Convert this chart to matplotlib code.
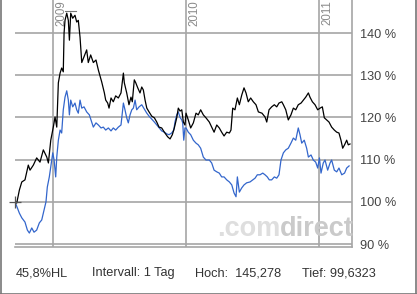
import matplotlib
matplotlib.use("Agg")
import matplotlib.pyplot as plt
from matplotlib.lines import Line2D

# time in decimal years, values in % of start
black_t = [2008.714, 2008.727, 2008.747, 2008.765, 2008.789, 2008.814, 2008.827, 2008.852, 2008.877,
           2008.902, 2008.927, 2008.953, 2008.965, 2008.983, 2009.002, 2009.015, 2009.028, 2009.040,
           2009.053, 2009.065, 2009.077, 2009.083, 2009.090, 2009.103, 2009.115, 2009.123, 2009.133,
           2009.148, 2009.165, 2009.178, 2009.190, 2009.203, 2009.216, 2009.233, 2009.253, 2009.265,
           2009.283, 2009.303, 2009.323, 2009.341, 2009.366, 2009.386, 2009.396, 2009.411, 2009.421,
           2009.436, 2009.453, 2009.471, 2009.491, 2009.511, 2009.529, 2009.536, 2009.554, 2009.571,
           2009.586, 2009.596, 2009.611, 2009.622, 2009.637, 2009.654, 2009.667, 2009.679, 2009.692,
           2009.705, 2009.722, 2009.742, 2009.762, 2009.780, 2009.797, 2009.817, 2009.837, 2009.862,
           2009.880, 2009.897, 2009.912, 2009.930, 2009.942, 2009.955, 2009.968, 2009.980, 2009.992,
           2010.000, 2010.017, 2010.035, 2010.055, 2010.075, 2010.092, 2010.110, 2010.130, 2010.150,
           2010.175, 2010.193, 2010.211, 2010.231, 2010.250, 2010.268, 2010.286, 2010.306, 2010.326,
           2010.338, 2010.351, 2010.368, 2010.386, 2010.401, 2010.419, 2010.436, 2010.451, 2010.468,
           2010.486, 2010.506, 2010.526, 2010.544, 2010.571, 2010.594, 2010.607, 2010.624, 2010.644,
           2010.664, 2010.682, 2010.699, 2010.720, 2010.732, 2010.750, 2010.769, 2010.789, 2010.807,
           2010.825, 2010.844, 2010.865, 2010.882, 2010.900, 2010.920, 2010.932, 2010.950, 2010.970,
           2010.990, 2011.008, 2011.025, 2011.040, 2011.058, 2011.075, 2011.095, 2011.115, 2011.133,
           2011.150, 2011.165, 2011.178, 2011.192, 2011.208, 2011.220, 2011.233]
black_v = [100.0, 99.7, 102.8, 104.7, 105.2, 108.7, 107.5, 108.7, 110.4,
           109.4, 112.3, 110.6, 109.2, 114.6, 117.7, 120.1, 117.7, 128.2,
           130.5, 131.7, 130.8, 140.0, 143.0, 144.7, 143.0, 138.3, 144.7,
           143.5, 144.2, 142.6, 143.0, 139.0, 133.0, 134.4, 136.0, 133.0,
           134.8, 133.0, 133.6, 131.2, 128.4, 125.8, 124.1, 123.4, 122.2,
           124.6, 123.7, 125.1, 124.6, 125.8, 130.5, 128.2, 125.8, 123.0,
           124.8, 123.7, 128.9, 128.2, 127.0, 125.8, 127.2, 126.5, 124.1,
           122.2, 121.3, 120.3, 119.9, 118.9, 117.7, 117.5, 116.5, 115.4,
           114.9, 115.9, 117.5, 119.9, 122.2, 121.5, 121.8, 118.9, 118.2,
           121.0, 119.4, 117.5, 118.7, 121.0, 120.6, 121.8, 120.6, 119.9,
           118.9, 117.7, 116.5, 118.2, 117.5, 116.5, 115.6, 116.5, 116.3,
           117.0, 122.2, 121.8, 124.6, 123.0, 125.3, 127.0, 125.8, 123.7,
           124.6, 123.7, 123.0, 121.3, 121.0, 120.1, 118.9, 121.8, 122.5,
           123.0, 122.5, 123.4, 123.7, 123.0, 121.8, 119.4, 120.6, 122.2,
           121.8, 123.0, 123.4, 124.1, 124.8, 125.8, 124.8, 123.7, 123.0,
           121.8, 122.2, 122.5, 119.9, 119.4, 118.9, 117.7, 117.0, 116.5,
           116.3, 114.6, 112.7, 113.5, 114.6, 113.5, 113.7]

blue_t = [2008.714, 2008.747, 2008.765, 2008.789, 2008.807, 2008.822, 2008.840, 2008.857, 2008.877,
          2008.897, 2008.915, 2008.927, 2008.947, 2008.957, 2008.972, 2008.983, 2008.998, 2009.008,
          2009.020, 2009.028, 2009.040, 2009.053, 2009.065, 2009.077, 2009.090, 2009.103, 2009.115,
          2009.123, 2009.133, 2009.148, 2009.165, 2009.178, 2009.190, 2009.203, 2009.216, 2009.233,
          2009.253, 2009.273, 2009.291, 2009.303, 2009.323, 2009.341, 2009.361, 2009.378, 2009.396,
          2009.416, 2009.436, 2009.453, 2009.471, 2009.491, 2009.511, 2009.521, 2009.529, 2009.541,
          2009.554, 2009.566, 2009.579, 2009.592, 2009.604, 2009.617, 2009.629, 2009.647, 2009.667,
          2009.686, 2009.705, 2009.722, 2009.742, 2009.762, 2009.780, 2009.797, 2009.817, 2009.837,
          2009.855, 2009.872, 2009.892, 2009.908, 2009.917, 2009.930, 2009.942, 2009.955, 2009.968,
          2009.975, 2009.983, 2009.992, 2010.000, 2010.017, 2010.035, 2010.055, 2010.075, 2010.092,
          2010.110, 2010.130, 2010.150, 2010.175, 2010.193, 2010.211, 2010.231, 2010.250, 2010.268,
          2010.286, 2010.306, 2010.326, 2010.344, 2010.361, 2010.376, 2010.386, 2010.401, 2010.419,
          2010.436, 2010.456, 2010.481, 2010.502, 2010.519, 2010.536, 2010.556, 2010.577, 2010.594,
          2010.611, 2010.626, 2010.644, 2010.664, 2010.682, 2010.699, 2010.714, 2010.732, 2010.750,
          2010.769, 2010.789, 2010.807, 2010.825, 2010.844, 2010.857, 2010.870, 2010.889, 2010.907,
          2010.920, 2010.940, 2010.957, 2010.975, 2010.990, 2011.003, 2011.015, 2011.032, 2011.045,
          2011.065, 2011.083, 2011.095, 2011.115, 2011.133, 2011.150, 2011.171, 2011.192, 2011.208,
          2011.226]
blue_v = [100.0, 97.3, 96.2, 95.2, 93.3, 92.6, 93.8, 92.8, 93.3,
          95.0, 95.7, 97.3, 100.0, 103.5, 105.9, 108.3, 111.6, 109.9,
          105.9, 110.6, 114.6, 117.0, 116.3, 121.8, 124.8, 126.3, 124.1,
          120.6, 124.1, 122.5, 123.4, 121.8, 121.0, 124.1, 122.2, 122.5,
          121.3, 120.6, 118.9, 117.7, 118.7, 118.2, 117.5, 117.7, 117.0,
          117.5, 116.8, 117.5, 117.0, 117.7, 118.2, 121.0, 123.4, 121.8,
          119.9, 118.7, 120.6, 121.8, 122.2, 124.1, 121.8, 122.5, 123.0,
          122.0, 121.0, 120.3, 119.6, 118.9, 118.2, 117.5, 116.8, 116.5,
          116.1, 115.9, 116.3, 117.0, 118.9, 120.6, 121.3, 120.0, 119.4,
          118.7, 114.6, 117.5, 117.5, 116.5, 115.9, 114.6, 113.9, 113.5,
          112.7, 110.6, 109.9, 109.9, 109.2, 107.5, 107.1, 106.8, 105.9,
          105.9, 105.2, 104.7, 104.0, 102.1, 101.2, 105.9, 102.3, 103.3,
          104.0, 104.5, 104.7, 105.2, 105.6, 106.4, 106.4, 106.8, 106.4,
          105.9, 105.2, 105.2, 105.9, 105.6, 106.4, 109.9, 111.6, 112.3,
          112.7, 113.9, 115.1, 114.6, 117.5, 115.9, 113.9, 114.6, 112.7,
          110.6, 111.1, 109.9, 109.4, 108.0, 110.4, 106.8, 109.2, 109.9,
          107.5, 109.2, 109.9, 107.5, 107.1, 108.0, 106.4, 106.8, 108.0,
          108.5]

year_ticks = [2009, 2010, 2011]
pct_ticks = [90, 100, 110, 120, 130, 140]
footer = ["45,8%HL", "Intervall: 1 Tag", "Hoch:  145,278", "Tief: 99,6323"]

W, H = 417, 294
fig = plt.figure(figsize=(W / 100, H / 100), dpi=100)
plt.rcParams['font.family'] = ['Liberation Sans', 'DejaVu Sans']

ax = fig.add_axes([15 / W, 1 - 247 / H, (352 - 15) / W, 247 / H])
ax.set_xlim(2008.714, 2011.248)
ax.set_ylim(89.29, 147.82)

grid_c = '#a6a6a6'
for y in pct_ticks:
    ax.axhline(y, color=grid_c, lw=1.2, zorder=1)
for x in year_ticks:
    ax.axvline(x, color=grid_c, lw=1.2, zorder=1)
    ax.annotate(str(x), (x, 1), xycoords=('data', 'axes fraction'),
                xytext=(2.5, 0), textcoords='offset pixels',
                rotation=90, ha='left', va='top', fontsize=8.3, color='#8a8a8a')

ax.plot(blue_t, blue_v, color='#3366cc', lw=0.9, zorder=3)
ax.plot(black_t, black_v, color='black', lw=0.9, zorder=4)

# start cross and high marker
ax.plot([black_t[0]], [100], marker='+', ms=9, mew=0.9, color='#555555', zorder=5, clip_on=False)
ax.plot([2009.09, 2009.17], [145.3, 145.3], color='#777777', lw=0.8, zorder=5)

for s in ['top', 'left']:
    ax.spines[s].set_visible(False)
for s in ['right', 'bottom']:
    ax.spines[s].set_color(grid_c)
    ax.spines[s].set_linewidth(1.2)

ax.set_xticks([])
ax.yaxis.tick_right()
ax.set_yticks(pct_ticks)
ax.set_yticklabels([f"{v} %" for v in pct_ticks])
ax.tick_params(axis='y', length=0, pad=5.5, labelsize=9.2, labelcolor='#444444')

# watermark
fig.text(280 / W, 1 - 236 / H, ".com", ha='right', va='baseline', fontsize=19.5,
         fontweight='bold', color='#dedede', zorder=0)
fig.text(280 / W, 1 - 236 / H, "direct", ha='left', va='baseline', fontsize=19.5,
         fontweight='bold', color='#cacaca', zorder=0)

# footer
for txt, x in zip(footer, [16, 92, 195, 302]):
    fig.text(x / W, 1 - 276 / H, txt, ha='left', va='baseline', fontsize=9.2, color='#333333')

# outer frame
frame_c = '#777777'
fig.add_artist(Line2D([0.5 / W, 0.5 / W], [0, 1], color=frame_c, lw=1.2))
fig.add_artist(Line2D([416 / W, 416 / W], [0, 1], color=frame_c, lw=1.2))
fig.add_artist(Line2D([0, 416 / W], [0.5 / H, 0.5 / H], color=frame_c, lw=1.2))

fig.savefig("out.png", dpi=100)
